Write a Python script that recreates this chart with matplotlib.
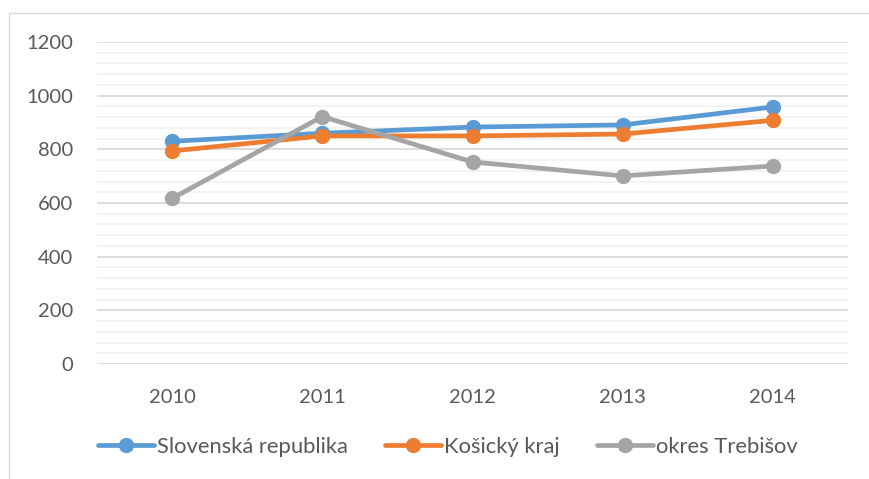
import matplotlib
matplotlib.use("Agg")
import matplotlib.pyplot as plt
from matplotlib.patches import Rectangle
from matplotlib.ticker import MultipleLocator

years = ["2010", "2011", "2012", "2013", "2014"]
slovensko = [830, 860, 883, 891, 958]
kosicky = [794, 850, 850, 857, 908]
trebisov = [617, 922, 753, 701, 738]
series_names = ["Slovenská republika", "Košický kraj", "okres Trebišov"]
colors = ["#5B9BD5", "#ED7D31", "#A5A5A5"]

plt.rcParams['font.family'] = ['Lato', 'DejaVu Sans']

fig = plt.figure(figsize=(8.69, 4.79), dpi=100)
fig.patch.set_facecolor("white")
# outer chart frame (top and left visible)
fig.patches.append(Rectangle((9 / 869, -0.1), 1.2, (479 - 13) / 479 + 0.1,
                             transform=fig.transFigure, fill=False,
                             edgecolor="#D9D9D9", linewidth=1.0))

ax = fig.add_axes([97 / 869, 1 - 364 / 479, (848 - 97) / 869, (364 - 42) / 479])
x = list(range(len(years)))
for vals, name, c in zip([slovensko, kosicky, trebisov], series_names, colors):
    ax.plot(x, vals, color=c, linewidth=3.4, marker="o", markersize=10,
            label=name, solid_capstyle="round", zorder=3)

ax.set_xlim(-0.5, len(years) - 0.5)
ax.set_ylim(0, 1200)
ax.set_xticks(x)
ax.set_xticklabels(years)
ax.yaxis.set_major_locator(MultipleLocator(200))
ax.yaxis.set_minor_locator(MultipleLocator(40))
ax.grid(which="major", axis="y", color="#D9D9D9", linewidth=1.3, zorder=0)
ax.grid(which="minor", axis="y", color="#F2F2F2", linewidth=1.3, zorder=0)
for s in ax.spines.values():
    s.set_visible(False)
ax.tick_params(axis="both", which="both", length=0, colors="#595959", labelsize=14.5)
ax.tick_params(axis="y", pad=17)
ax.tick_params(axis="x", pad=18)
ax.set_axisbelow(True)

fig.legend(loc="center", bbox_to_anchor=(448 / 869, 1 - 447 / 479), ncol=3,
           frameon=False, fontsize=15.8, handlelength=2.55, handletextpad=0.14,
           columnspacing=1.7, labelcolor="#595959")

fig.savefig("out.png", dpi=100, facecolor="white")
